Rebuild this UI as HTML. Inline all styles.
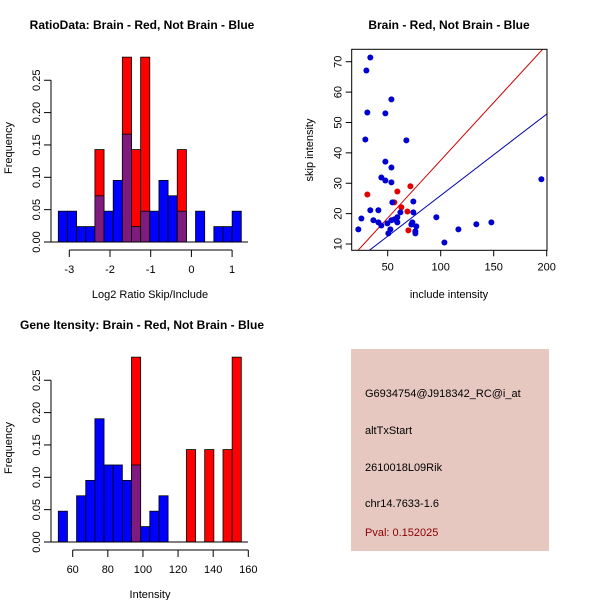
<!DOCTYPE html>
<html><head><meta charset="utf-8"><style>
body{margin:0;background:#fff}
svg{display:block;font-family:"Liberation Sans",sans-serif}
</style></head><body>
<svg id="c" width="600" height="600" xmlns="http://www.w3.org/2000/svg">
<rect x="351" y="349" width="198" height="202" fill="#e6c8c1"/>
<text x="365" y="397" font-size="11" fill="#000">G6934754@J918342_RC@i_at</text>
<text x="365" y="434" font-size="11" fill="#000">altTxStart</text>
<text x="365" y="471" font-size="11" fill="#000">2610018L09Rik</text>
<text x="365" y="507" font-size="11" fill="#000">chr14.7633-1.6</text>
<text x="365" y="536" font-size="11" fill="#8b0000">Pval: 0.152025</text>
</svg>
<script>
// Ratio histogram (bin counts)
const ratioBlue=[2,2,1,1,3,2,4,7,1,2,2,4,3,2,0,2,0,1,1,2];
const ratioRed=[0,0,0,0,1,0,0,2,1,2,0,0,0,1,0,0,0,0,0,0];
const ratioTicks=[-3,-2,-1,0,1];
// Intensity histogram
const intBlue=[2,0,3,4,8,5,5,4,5,1,2,3,0,0,0,0,0,0,0,0];
const intRed=[0,0,0,0,0,0,0,0,2,0,0,0,0,0,1,0,1,0,1,2];
const intTicks=[60,80,100,120,140,160];
const freqTicks=[0,0.05,0.10,0.15,0.20,0.25];
// Scatter
const blueX=[33.6,29.9,30.8,28.9,22.3,25.2,33.6,36.5,41.2,41.2,44.0,44.0,47.8,47.8,47.8,53.5,53.5,53.5,54.4,49.7,50.6,52.5,53.5,56.3,59.1,59.1,62.0,67.6,74.2,74.2,73.3,72.3,77.0,76.1,76.1,95.9,103.5,116.7,133.6,147.8,195.0,58.2];
const blueY=[71.4,67.1,53.3,44.4,14.8,18.4,21.1,17.8,21.1,17.1,16.1,31.9,37.1,30.9,53.0,57.6,35.2,30.3,23.7,16.8,13.5,14.8,17.8,18.1,17.1,18.8,20.4,44.1,24.0,20.4,17.1,16.4,15.8,14.2,13.5,18.8,10.5,14.8,16.5,17.1,31.3,17.8];
const redX=[30.8,59.1,71.4,62.9,68.6,69.5,56.3];
const redY=[26.3,27.3,29.0,22.1,20.7,14.5,23.7];
const lineSlopes=[0.38,0.268];
const lineIntercepts=[-0.45,-0.83];
const scatXTicks=[50,100,150,200];
const scatYTicks=[10,20,30,40,50,60,70];

const NS="http://www.w3.org/2000/svg";
const svg=document.getElementById('c');
function el(t,a,txt){const e=document.createElementNS(NS,t);for(const k in a)e.setAttribute(k,a[k]);if(txt!==undefined)e.textContent=txt;svg.appendChild(e);return e;}

function hist(blue,red,ticks,tickToPx,title,xlab,prefix){
  const oy=prefix==='int'?300:0;
  const y=v=>242+oy-v*647;
  const nB=42,nR=7,n=blue.length,bw=(241.3-58.3)/n;
  for(let i=0;i<n;i++){
    const xl=58.3+i*bw, hb=blue[i]/nB, hr=red[i]/nR;
    if(hr>0){const r=el('rect',{x:xl,y:y(hr),width:bw,height:y(0)-y(hr),fill:'#ff0000',stroke:'#000','stroke-width':0.8});
      
      }
    if(hb>0){
      const b=el('rect',{x:xl,y:y(hb),width:bw,height:y(0)-y(hb),fill:hr>0?'#7f1a7f':'#0000ff',stroke:'#000','stroke-width':0.8});
      
      }
  }
  el('line',{x1:51,y1:y(0),x2:248,y2:y(0),stroke:'#000'});
  el('line',{x1:51,y1:y(0),x2:51,y2:y(0.25),stroke:'#000'});
  freqTicks.forEach(v=>{el('line',{x1:44,y1:y(v),x2:51,y2:y(v),stroke:'#000'});
    const t=el('text',{x:0,y:0,'font-size':11,'text-anchor':'middle',transform:`translate(40,${y(v)}) rotate(-90)`},v.toFixed(2));
    
    });
  const ay=y(0)+8;
  el('line',{x1:tickToPx(ticks[0]),y1:ay,x2:tickToPx(ticks[ticks.length-1]),y2:ay,stroke:'#000'});
  ticks.forEach(v=>{el('line',{x1:tickToPx(v),y1:ay,x2:tickToPx(v),y2:ay+7,stroke:'#000'});
    const t=el('text',{x:tickToPx(v),y:ay+23,'font-size':11,'text-anchor':'middle'},String(v));
    
    });
  const tt=el('text',{x:142,y:29+oy,'font-size':12,'font-weight':'bold','text-anchor':'middle'},title);
  
  
  const xt=el('text',{x:150,y:298+oy,'font-size':11,'text-anchor':'middle'},xlab);
  
  
  const yl=el('text',{x:0,y:0,'font-size':11,'text-anchor':'middle',transform:`translate(12,${148+oy}) rotate(-90)`},'Frequency');
  
  
}
hist(ratioBlue,ratioRed,ratioTicks,v=>69.3+(v+3)*40.7,'RatioData: Brain - Red, Not Brain - Blue','Log2 Ratio Skip/Include','ratio');
hist(intBlue,intRed,intTicks,v=>72.7+(v-60)*1.756,'Gene Itensity: Brain - Red, Not Brain - Blue','Intensity','int');

// scatter
const sx=v=>387.7+(v-50)*1.06, sy=v=>244-(v-10)*3.038;
const L=351.7,R=547,T=49.3,B=250.3;
const cp=el('clipPath',{id:'sc'});const cr=document.createElementNS(NS,'rect');
cr.setAttribute('x',L);cr.setAttribute('y',T);cr.setAttribute('width',R-L);cr.setAttribute('height',B-T);cp.appendChild(cr);
lineSlopes.forEach((s,i)=>{const xa=0,xb=220;
  const l=el('line',{x1:sx(xa),y1:sy(lineIntercepts[i]+s*xa),x2:sx(xb),y2:sy(lineIntercepts[i]+s*xb),stroke:i==0?'#cc0000':'#0000aa','stroke-width':1,'clip-path':'url(#sc)'});
  
  });
redX.forEach((v,i)=>{const c=el('circle',{cx:sx(v),cy:sy(redY[i]),r:3,fill:'#e00000'});
  
  });
blueX.forEach((v,i)=>{const c=el('circle',{cx:sx(v),cy:sy(blueY[i]),r:3,fill:'#0000d0'});
  
  });
el('rect',{x:L,y:T,width:R-L,height:B-T,fill:'none',stroke:'#000'});
scatXTicks.forEach(v=>{el('line',{x1:sx(v),y1:B,x2:sx(v),y2:B+6,stroke:'#000'});
  const t=el('text',{x:sx(v),y:B+20,'font-size':11,'text-anchor':'middle'},String(v));
  
  });
scatYTicks.forEach(v=>{el('line',{x1:L-6,y1:sy(v),x2:L,y2:sy(v),stroke:'#000'});
  const t=el('text',{x:0,y:0,'font-size':11,'text-anchor':'middle',transform:`translate(${L-10},${sy(v)}) rotate(-90)`},String(v));
  
  });
let t=el('text',{x:449,y:29,'font-size':12,'font-weight':'bold','text-anchor':'middle'},'Brain - Red, Not Brain - Blue');


t=el('text',{x:449,y:298,'font-size':11,'text-anchor':'middle'},'include intensity');


t=el('text',{x:0,y:0,'font-size':11,'text-anchor':'middle',transform:'translate(313,150) rotate(-90)'},'skip intensity');


</script>
</body></html>
